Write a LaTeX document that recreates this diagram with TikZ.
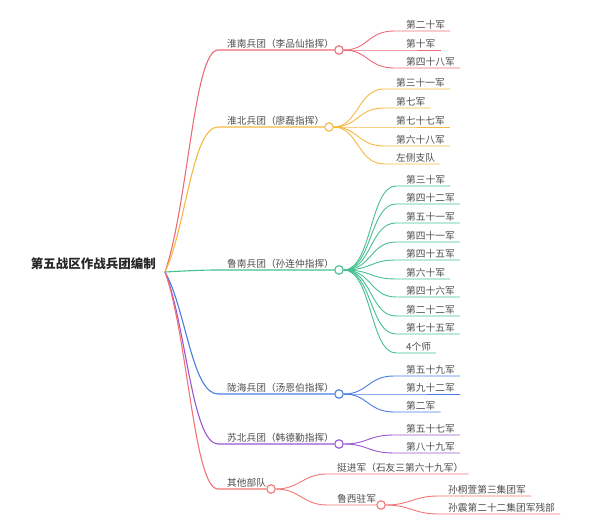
\documentclass[tikz,border=0pt]{standalone}
\usepackage{fontspec}
\setmainfont{Noto Sans CJK SC}
\definecolor{cA}{HTML}{EC6B78}
\definecolor{cB}{HTML}{F5B843}
\definecolor{cC}{HTML}{45C08E}
\definecolor{cD}{HTML}{4A7CE0}
\definecolor{cE}{HTML}{9A56D2}
\definecolor{cF}{HTML}{F27474}
\definecolor{txt}{HTML}{4D4D4D}
\tikzset{
  roottext/.style={font=\fontsize{12.5}{14}\selectfont\bfseries, text=black!85, inner sep=0pt},
  lbl/.style={font=\fontsize{9.7}{11}\selectfont, text=txt, inner sep=0pt, anchor=base west},
  hub/.style={circle, draw, fill=white, line width=1.1pt, minimum size=8.5pt, inner sep=0pt},
  link/.style={line width=1.1pt},
  sub/.style={line width=0.9pt}
}
\begin{document}
\begin{tikzpicture}[x=1pt,y=-1pt]
\useasboundingbox (0,0) rectangle (603,529);
\node[roottext, anchor=east] (root) at (156,264) {第五战区作战兵团编制};
\coordinate (rp) at (165,272);

% ---------- branch 1
\coordinate (b1s) at (218,50);
\node[hub, draw=cA] (b1) at (339,50) {};
\node[lbl] (b1t) at (227,47.5) {淮南兵团（李品仙指挥）};
\draw[link, cA] (rp) .. controls (188,205) and (194,50) .. (b1s) -- (b1.west);
\foreach \n/\y/\t in {a/31/第二十军, b/50/第十军, c/68/第四十八军}{
  \coordinate (b1\n) at (394,\y);
  \node[lbl] (b1\n t) at (406,\y-2.5) {\t};
  \draw[sub, cA] (b1.east) .. controls +(24,0) and +(-26,0) .. (b1\n) -- ([xshift=5pt]b1\n t.east |- b1\n);
}

% ---------- branch 2
\coordinate (b2s) at (218,127);
\node[hub, draw=cB] (b2) at (329,127) {};
\node[lbl] (b2t) at (227,124.5) {淮北兵团（廖磊指挥）};
\draw[link, cB] (rp) .. controls (186,228) and (192,127) .. (b2s) -- (b2.west);
\foreach \n/\y/\t in {a/89/第三十一军, b/108/第七军, c/127/第七十七军, d/146/第六十八军, e/164/左侧支队}{
  \coordinate (b2\n) at (384,\y);
  \node[lbl] (b2\n t) at (396,\y-2.5) {\t};
  \draw[sub, cB] (b2.east) .. controls +(24,0) and +(-26,0) .. (b2\n) -- ([xshift=5pt]b2\n t.east |- b2\n);
}

% ---------- branch 3
\coordinate (b3s) at (218,270);
\node[hub, draw=cC] (b3) at (339,270) {};
\node[lbl] (b3t) at (227,267.5) {鲁南兵团（孙连仲指挥）};
\draw[link, cC] (rp) .. controls (185,271) and (200,270) .. (b3s) -- (b3.west);
\foreach \n/\y/\t in {a/186/第三十军, b/204/第四十二军, c/223/第五十一军, d/242/第四十一军, e/260/第四十五军, f/279/第六十军, g/297/第四十六军, h/316/第二十二军, i/334/第七十五军, j/353/4个师}{
  \coordinate (b3\n) at (396,\y);
  \node[lbl] (b3\n t) at (406,\y-2.5) {\t};
  \draw[sub, cC] (b3.east) .. controls +(28,0) and +(-26,0) .. (b3\n) -- ([xshift=5pt]b3\n t.east |- b3\n);
}

% ---------- branch 4
\coordinate (b4s) at (218,394);
\node[hub, draw=cD] (b4) at (339,394) {};
\node[lbl] (b4t) at (227,391.5) {陇海兵团（汤恩伯指挥）};
\draw[link, cD] (rp) .. controls (186,309) and (192,394) .. (b4s) -- (b4.west);
\foreach \n/\y/\t in {a/376/第五十九军, b/394/第九十二军, c/412/第二军}{
  \coordinate (b4\n) at (394,\y);
  \node[lbl] (b4\n t) at (406,\y-2.5) {\t};
  \draw[sub, cD] (b4.east) .. controls +(24,0) and +(-26,0) .. (b4\n) -- ([xshift=5pt]b4\n t.east |- b4\n);
}

% ---------- branch 5
\coordinate (b5s) at (218,444);
\node[hub, draw=cE] (b5) at (339,444) {};
\node[lbl] (b5t) at (227,441.5) {苏北兵团（韩德勤指挥）};
\draw[link, cE] (rp) .. controls (186,324) and (192,444) .. (b5s) -- (b5.west);
\foreach \n/\y/\t in {a/435/第五十七军, b/453/第八十九军}{
  \coordinate (b5\n) at (394,\y);
  \node[lbl] (b5\n t) at (406,\y-2.5) {\t};
  \draw[sub, cE] (b5.east) .. controls +(24,0) and +(-26,0) .. (b5\n) -- ([xshift=5pt]b5\n t.east |- b5\n);
}

% ---------- branch 6
\coordinate (b6s) at (218,489);
\node[hub, draw=cF] (b6) at (271,489) {};
\node[lbl] (b6t) at (227,486.5) {其他部队};
\draw[link, cF] (rp) .. controls (188,337) and (194,489) .. (b6s) -- (b6.west);

\coordinate (b6a) at (327,474);
\node[lbl] (b6at) at (337,471.5) {挺进军（石友三第六十九军）};
\draw[sub, cF] (b6.east) .. controls +(24,0) and +(-24,0) .. (b6a) -- ([xshift=5pt]b6at.east |- b6a);

\coordinate (b6b) at (327,505);
\node[hub, draw=cF] (b6bh) at (381,505) {};
\node[lbl] (b6bt) at (337,502.5) {鲁西驻军};
\draw[sub, cF] (b6.east) .. controls +(24,0) and +(-24,0) .. (b6b) -- (b6bh.west);

\foreach \n/\y/\t in {a/496/孙桐萱第三集团军, b/514/孙震第二十二集团军残部}{
  \coordinate (b6b\n) at (438,\y);
  \node[lbl] (b6b\n t) at (448,\y-2.5) {\t};
  \draw[sub, cF] (b6bh.east) .. controls +(24,0) and +(-24,0) .. (b6b\n) -- ([xshift=5pt]b6b\n t.east |- b6b\n);
}
\end{tikzpicture}
\end{document}
